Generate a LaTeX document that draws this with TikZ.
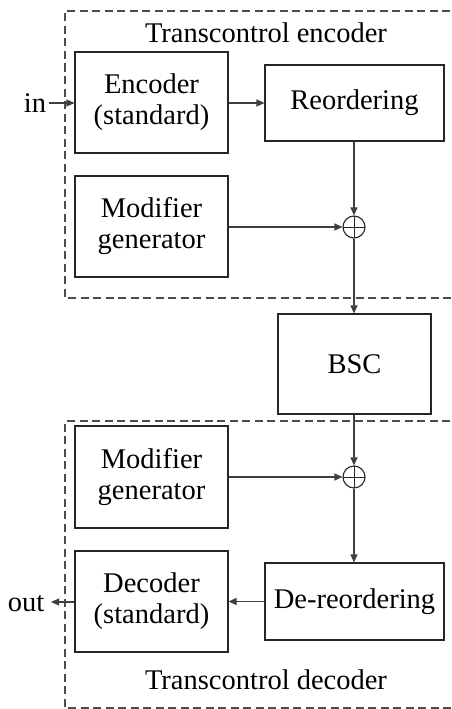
\documentclass[tikz,border=0pt]{standalone}
\usepackage{fontspec}
\setmainfont{Liberation Serif}
\usetikzlibrary{arrows.meta}
\begin{document}
\begin{tikzpicture}[x=1pt,y=-1pt,
  blk/.style={draw=black!85, line width=1.1pt, rectangle, inner sep=0pt, align=center,
    font=\fontsize{28.5}{31}\selectfont},
  lbl/.style={inner sep=0pt, font=\fontsize{28.5}{31}\selectfont},
  group/.style={draw=black!70, line width=1.1pt, dash pattern=on 8pt off 4.5pt},
  conn/.style={draw=black!75, line width=1.1pt, -{Triangle[length=8pt,width=7pt]}},
  sumnode/.style={draw=black!85, line width=1.1pt, circle, minimum size=22pt, inner sep=0pt,
    path picture={\draw[line width=0.9pt] (path picture bounding box.north) -- (path picture bounding box.south)
      (path picture bounding box.west) -- (path picture bounding box.east);}}]
\useasboundingbox (0,0) rectangle (451,709);
\fill[white] (0,0) rectangle (451,709);
% groups
\draw[group] (475,11) -- (65,11) -- (65,298) -- (475,298);
\draw[group] (475,421) -- (65,421) -- (65,708) -- (475,708);
\node[lbl] (tenc) at (266,33) {Transcontrol encoder};
\node[lbl] (tdec) at (266,680) {Transcontrol decoder};
% encoder side
\node[blk, minimum width=153pt, minimum height=101pt] (enc) at (151.5,102.5) {Encoder\\(standard)};
\node[blk, minimum width=179pt, minimum height=76pt] (reo) at (354.5,103) {Reordering};
\node[blk, minimum width=153pt, minimum height=101pt] (modenc) at (151.5,226.5) {Modifier\\generator};
\node[sumnode] (sumenc) at (354,227) {};
% channel
\node[blk, minimum width=153pt, minimum height=100pt] (bsc) at (354.5,364) {BSC};
% decoder side
\node[blk, minimum width=153pt, minimum height=102pt] (moddec) at (151.5,477) {Modifier\\generator};
\node[sumnode] (sumdec) at (354,477) {};
\node[blk, minimum width=153pt, minimum height=101pt] (dec) at (151.5,601.5) {Decoder\\(standard)};
\node[blk, minimum width=179pt, minimum height=77pt] (dereo) at (354.5,601.5) {De-reordering};
% in/out
\node[lbl, anchor=base] (in) at (35,112) {in};
\node[lbl, anchor=base] (out) at (26,611) {out};
\coordinate (inst) at (49,103);
\coordinate (outend) at (51,602);
% connectors
\draw[conn] (inst) -- (enc.west |- inst);
\draw[conn] (enc.east |- reo.west) -- (reo.west);
\draw[conn] (reo.south -| sumenc) -- (sumenc.north);
\draw[conn] (modenc.east |- sumenc) -- (sumenc.west);
\draw[conn] (sumenc.south) -- (bsc.north -| sumenc);
\draw[conn] (bsc.south -| sumdec) -- (sumdec.north);
\draw[conn] (moddec.east |- sumdec) -- (sumdec.west);
\draw[conn] (sumdec.south) -- (dereo.north -| sumdec);
\draw[conn] (dereo.west) -- (dec.east |- dereo.west);
\draw[conn] (dec.west |- outend) -- (outend);
\end{tikzpicture}
\end{document}
